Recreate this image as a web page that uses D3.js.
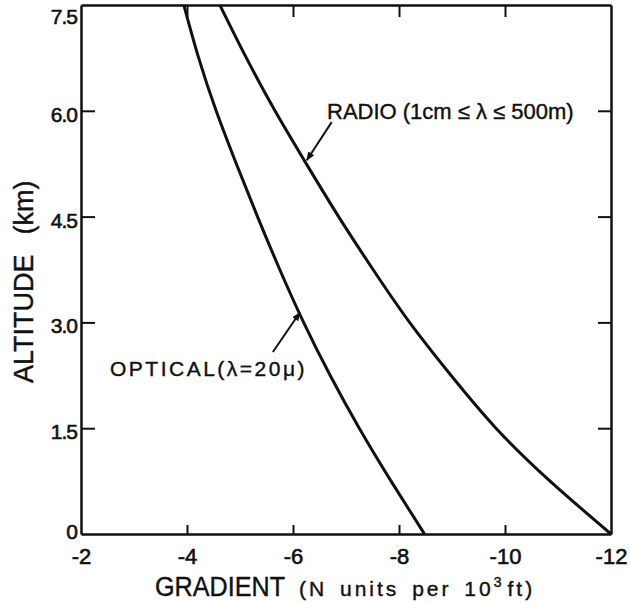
<!DOCTYPE html>
<html>
<head>
<meta charset="utf-8">
<script src="https://cdn.jsdelivr.net/npm/d3@7"></script>
<style>
  html, body { margin: 0; padding: 0; background: #fff; }
  svg { display: block; }
  text { font-family: "Liberation Sans", Arial, sans-serif; fill: #111; }
</style>
</head>
<body>
<svg id="chart" width="630" height="603"></svg>
<script>
// Altitude levels (km) at which the refractivity gradients are given
const altitudes = [0, 0.75, 1.5, 2.25, 3.0, 3.75, 4.5, 5.25, 6.0, 6.75, 7.5];
// Gradient, N units per 1000 ft
const opticalGradient = [-8.48, -7.85, -7.25, -6.70, -6.20, -5.75, -5.33, -4.93, -4.55, -4.22, -3.94];
const radioGradient   = [-12.0, -10.85, -9.83, -8.98, -8.20, -7.51, -6.86, -6.25, -5.66, -5.12, -4.62];

const xTicks = [-2, -4, -6, -8, -10, -12];
const yTicks = [0, 1.5, 3.0, 4.5, 6.0, 7.5];
const yTickLabels = ["0", "1.5", "3.0", "4.5", "6.0", "7.5"];

// Arrow callouts: [gradient, altitude] of tail and head
const radioArrow = [[-6.73, 5.84], [-6.26, 5.30]];
const opticalArrow = [[-5.62, 2.58], [-6.13, 3.14]];

const svg = d3.select("#chart");
const plotLeft = 81, plotRight = 611, plotTop = 5, plotBottom = 534;

const x = d3.scaleLinear().domain([-2, -12]).range([plotLeft, plotRight]);
const y = d3.scaleLinear().domain([0, 7.5]).range([plotBottom, plotTop]);

svg.append("defs").append("marker")
  .attr("id", "head")
  .attr("viewBox", "0 0 10 10")
  .attr("refX", 9).attr("refY", 5)
  .attr("markerWidth", 9).attr("markerHeight", 9)
  .attr("markerUnits", "userSpaceOnUse")
  .attr("orient", "auto")
  .append("path").attr("d", "M0,1 L10,5 L0,9 Z").attr("fill", "#111");

// Axes: ticks point inward on all four sides
const inner = [-4, -6, -8, -10];
const innerY = [1.5, 3.0, 4.5, 6.0];

const gB = svg.append("g").attr("transform", `translate(0,${plotBottom})`)
  .call(d3.axisBottom(x).tickValues(xTicks).tickSizeInner(-9).tickSizeOuter(0).tickPadding(14)
    .tickFormat(d => String(d)));
gB.selectAll(".tick").filter(d => !inner.includes(d)).select("line").remove();

const gT = svg.append("g").attr("transform", `translate(0,${plotTop})`)
  .call(d3.axisTop(x).tickValues(inner).tickSizeInner(-12).tickSizeOuter(0).tickFormat(""));

const gL = svg.append("g").attr("transform", `translate(${plotLeft},0)`)
  .call(d3.axisLeft(y).tickValues(yTicks).tickSizeInner(-14).tickSizeOuter(0).tickPadding(4)
    .tickFormat((d, i) => yTickLabels[i]));
gL.selectAll(".tick").filter(d => !innerY.includes(d)).select("line").remove();
gL.selectAll(".tick text").attr("dy", "0.5em");
gL.selectAll(".tick").filter(d => d === 7.5).select("text").attr("dy", "0.9em");
gL.selectAll(".tick").filter(d => d === 0).select("text").attr("dy", "0.22em");

const gR = svg.append("g").attr("transform", `translate(${plotRight},0)`)
  .call(d3.axisRight(y).tickValues(innerY).tickSizeInner(-13).tickSizeOuter(0).tickFormat(""));

[gB, gT, gL, gR].forEach(g => {
  g.select(".domain").attr("stroke", "#111").attr("stroke-width", 2.5);
  g.selectAll(".tick line").attr("stroke", "#111").attr("stroke-width", 2);
  g.selectAll(".tick text").attr("font-size", 22).attr("fill", "#111")
    .attr("stroke", "#111").attr("stroke-width", 0.6)
    .attr("font-family", "Liberation Sans, Arial, sans-serif");
});
gL.selectAll(".tick text").attr("font-size", 21).attr("letter-spacing", -1);

// Curves
const line = d3.line()
  .x(d => x(d[0]))
  .y(d => y(d[1]))
  .curve(d3.curveNatural);

const optical = altitudes.map((a, i) => [opticalGradient[i], a]);
const radio = altitudes.map((a, i) => [radioGradient[i], a]);

svg.append("path").datum(optical).attr("d", line)
  .attr("fill", "none").attr("stroke", "#111").attr("stroke-width", 3);
svg.append("path").datum(radio).attr("d", line)
  .attr("fill", "none").attr("stroke", "#111").attr("stroke-width", 3);

// Callout arrows
[radioArrow, opticalArrow].forEach(a => {
  svg.append("line")
    .attr("x1", x(a[0][0])).attr("y1", y(a[0][1]))
    .attr("x2", x(a[1][0])).attr("y2", y(a[1][1]))
    .attr("stroke", "#111").attr("stroke-width", 2)
    .attr("marker-end", "url(#head)");
});

// Curve labels
svg.append("text").attr("x", 327).attr("y", 119)
  .attr("font-size", 22).attr("stroke", "#111").attr("stroke-width", 0.4)
  .text("RADIO (1cm ≤ λ ≤ 500m)");

svg.append("text").attr("x", 110).attr("y", 376)
  .attr("font-size", 21).attr("letter-spacing", 2.5).attr("stroke", "#111").attr("stroke-width", 0.4)
  .text("OPTICAL(λ=20μ)");

// Axis titles
const xt = svg.append("text").attr("x", 155).attr("y", 596).attr("font-size", 27)
  .attr("stroke", "#111").attr("stroke-width", 0.4);
xt.append("tspan").attr("textLength", 130).attr("lengthAdjust", "spacingAndGlyphs").text("GRADIENT");
xt.append("tspan").attr("dx", 14).attr("font-size", 21).attr("letter-spacing", 3).attr("word-spacing", 4)
  .text("(N units per 10");
xt.append("tspan").attr("font-size", 14).attr("dy", -9).text("3");
xt.append("tspan").attr("font-size", 21).attr("dy", 9).attr("dx", 6).attr("letter-spacing", 3).text("ft)");

const yt = svg.append("text")
  .attr("transform", "translate(33,383) rotate(-90)")
  .attr("font-size", 27).attr("stroke", "#111").attr("stroke-width", 0.4);
yt.append("tspan").text("ALTITUDE");
yt.append("tspan").attr("dx", 20).text("(km)");
</script>
</body>
</html>
